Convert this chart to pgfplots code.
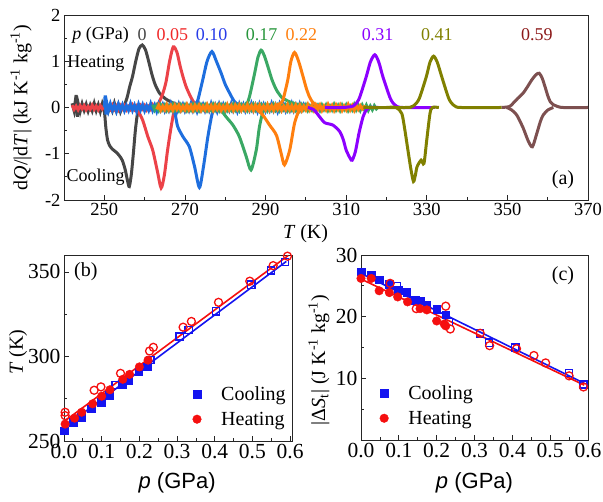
\documentclass[border=0pt]{standalone}
\usepackage{fontspec}
\setmainfont{Liberation Serif}
\newfontfamily\arial{Liberation Sans}
\usepackage{pgfplots}
\pgfplotsset{compat=1.18}

\definecolor{c0}{RGB}{70,70,70}
\definecolor{c1}{RGB}{236,66,72}
\definecolor{c2}{RGB}{30,110,222}
\definecolor{c3}{RGB}{58,168,100}
\definecolor{c4}{RGB}{255,127,14}
\definecolor{c5}{RGB}{140,0,255}
\definecolor{c6}{RGB}{128,128,0}
\definecolor{c7}{RGB}{125,80,80}
\definecolor{t1}{RGB}{240,40,40}
\definecolor{t2}{RGB}{40,60,232}
\definecolor{t3}{RGB}{40,150,60}
\definecolor{t7}{RGB}{140,25,25}
\definecolor{cblue}{RGB}{20,20,240}
\definecolor{cred}{RGB}{245,15,15}

\pgfplotsset{
  base/.style={
    scale only axis, anchor=south west,
    tick pos=left, tick align=inside,
    major tick length=5pt, minor tick length=3pt,
    axis line style={line width=0.8pt, black!85},
    every tick/.append style={line width=0.8pt, black!85},
    /pgf/number format/assume math mode=true,
  },
  bottom/.style={
    clip=false,
    xtick={0,0.1,0.2,0.3,0.4,0.5,0.6}, minor xtick={0.05,0.15,0.25,0.35,0.45,0.55},
    xticklabel style={/pgf/number format/fixed, /pgf/number format/fixed zerofill, /pgf/number format/precision=1},
    ticklabel style={font=\fontsize{21.5}{23}\selectfont},
    xlabel={{\arial\itshape p}{\arial\ (GPa)}},
    legend cell align=left,
    legend image code/.code={\draw[##1] plot coordinates {(0pt,0pt)}; \path (-5pt,0pt) (22pt,0pt);},
  },
  noise/.style={line width=3pt, no marks},
  peak/.style={line width=3pt, no marks, smooth, tension=0.45},
  fitline/.style={line width=1.6pt, no marks, forget plot},
  fsq/.style={only marks, mark=square*, mark size=3.8pt, cblue},
  osq/.style={only marks, mark=square, mark size=3.6pt, cblue, line width=1.3pt, mark options={fill=white}, forget plot},
  fci/.style={only marks, mark=*, mark size=4.3pt, cred},
  oci/.style={only marks, mark=o, mark size=4pt, cred, line width=1.3pt, mark options={fill=white}, forget plot},
}

\begin{document}
\begin{tikzpicture}

% ---------------- (a) ----------------
\begin{axis}[base, at={(64pt,302pt)}, width=524pt, height=185pt,
  xmin=240, xmax=370, ymin=-2, ymax=2,
  xtick={250,270,290,310,330,350,370}, minor xtick={240,260,280,300,320,340,360},
  ytick={-2,-1,0,1,2}, minor ytick={-1.5,-0.5,0.5,1.5},
  ticklabel style={font=\fontsize{18.5}{20}\selectfont},
  label style={font=\fontsize{20}{22}\selectfont},
  xlabel={\textit{T} (K)},
  xlabel style={at={(axis description cs:0.461,-0.184)}, anchor=center},
  ylabel={d\textit{Q}/|d\textit{T}| (kJ K\textsuperscript{-1} kg\textsuperscript{-1})},
  ylabel style={at={(axis description cs:-0.082,0.5)}, anchor=center, rotate=0},
]
% 0 GPa
\addplot[c0, noise] coordinates {(242.0,0.09)(242.5,-0.07)(243.0,0.27)(243.3,-0.2)(243.6,0.06)(244.0,-0.09)(244.5,0.08)(245.0,-0.06)(245.5,0.07)(246.0,-0.08)(246.5,0.05)(247.0,-0.07)
(247.5,0.09)(248.0,-0.07)(248.5,0.06)(249.0,-0.09)(249.5,0.08)(250.0,-0.06)(250.5,0.07)(251.0,-0.08)(251.5,0.05)(252.0,-0.07)
(252.5,0.09)(253.0,-0.07)(253.5,0.06)(254.0,-0.09)(254.5,0.03)};
\addplot[c0, peak] coordinates {(254.5,0)(255,0.05)(255.7,0.23)(256.3,0.45)(257,0.67)(257.8,1.0)(258.6,1.27)(259.4,1.35)(260.2,1.25)(261,1.0)(261.8,0.72)(262.6,0.5)(263.7,0.31)(265,0.2)(266.1,0.14)(267.5,0.08)(269,0.03)(270.5,0)};
\addplot[c0, peak] coordinates {(249.8,0)(250.1,-0.15)(250.4,-0.45)(250.8,-0.7)(251.3,-0.82)(252,-0.9)(253,-0.97)(253.8,-1.05)(254.5,-1.15)(255.2,-1.35)(255.8,-1.6)(256.2,-1.71)(256.7,-1.45)(257.2,-1.0)(257.7,-0.5)(258.2,-0.15)(258.8,-0.03)(260,0)(262,0)};
% 0.05 GPa
\addplot[c1, noise] coordinates {(242,0.05)(242.5,-0.04)(243,0.03)(243.5,-0.05)(244,0.04)(244.5,-0.03)(245,0.04)(245.5,-0.05)(246,0.02)(246.5,-0.04)
(247,0.05)(247.5,-0.04)(248,0.03)(248.5,-0.05)(249,0.04)(249.5,-0.03)(250,0.04)(250.5,-0.05)(251,0.02)(251.5,-0.04)
(252,0.05)(252.5,-0.04)(253,0.03)(253.5,-0.05)(254,0.04)(254.5,-0.03)(255,0.04)(255.5,-0.05)(256,0.02)(256.5,-0.04)
(257,0.05)(257.5,-0.04)(258,0.03)(258.5,-0.05)(259,0.04)(259.5,-0.03)(260,0.04)(260.5,-0.05)(261,0.02)(261.5,-0.04)
(262,0.05)(262.5,-0.04)(263,0.03)(263.5,-0.05)(264,0.04)(264.5,-0.03)(265,0.04)(265.5,-0.05)(266,0.02)(266.5,-0.04)
(267,0.05)(267.5,-0.04)(268,0.03)(268.5,-0.05)(269,0.04)(269.5,-0.03)(270,0.04)(270.5,-0.05)(271,0.02)(271.5,-0.04)
(272,0.05)(272.5,-0.04)(273,0.03)(273.5,-0.05)(274,0.04)(274.5,-0.03)(275,0.04)(275.5,-0.05)(276,0.02)(276.5,-0.04)
(277,0.05)(277.5,-0.04)(278,0.03)(278.5,-0.05)(279,0.04)(279.5,-0.03)(280,0.04)(280.5,-0.05)(281,0.02)(281.5,-0.04)
(282,0.05)(282.5,-0.04)(283,0.03)(283.5,-0.05)(284,0.04)(284.5,-0.03)(285,0.04)(285.5,-0.05)(286,0.02)(286.5,-0.04)
(287,0.05)(287.5,-0.04)(288,0.03)(288.5,-0.05)(289,0.04)(289.5,-0.03)(290,0.04)(290.5,-0.05)(291,0.02)(291.5,-0.04)
(292,0.05)(292.5,-0.04)(293,0.03)(293.5,-0.05)(294,0.04)(294.5,-0.03)(295,0.04)(295.5,-0.05)(296,0.02)(296.5,-0.04)
(297,0.05)(297.5,-0.04)(298,0.03)(298.5,-0.05)(299,0.04)(299.5,-0.03)(300,0.02)};
\addplot[c1, peak] coordinates {(261,0)(262.5,0.03)(263.5,0.1)(264.5,0.3)(265.3,0.55)(266.2,1.0)(267.1,1.31)(268,1.2)(268.8,0.9)(269.5,0.67)(270.3,0.45)(271.2,0.27)(272,0.14)(273,0.04)(274,0)};
\addplot[c1, peak] coordinates {(257.5,0)(258.2,-0.05)(259.5,-0.27)(260.8,-0.63)(262,-0.92)(263.2,-1.39)(264.1,-1.74)(264.9,-1.46)(265.7,-0.92)(266.6,-0.41)(267.4,-0.05)(268.2,0)};
% 0.10 GPa
\addplot[c2, noise] coordinates {(250,0)(250.2,0.26)(250.4,-0.15)(250.7,0.06)(251,-0.07)
(251.5,0.08)(252,-0.06)(252.5,0.05)(253,-0.08)(253.5,0.07)(254,-0.05)(254.5,0.06)(255,-0.07)(255.5,0.04)(256,-0.06)
(256.5,0.08)(257,-0.06)(257.5,0.05)(258,-0.08)(258.5,0.07)(259,-0.05)(259.5,0.06)(260,-0.07)(260.5,0.04)(261,-0.06)
(261.5,0.08)(262,-0.06)(262.5,0.05)(263,-0.08)(263.5,0.07)(264,-0.05)(264.5,0.06)(265,-0.07)(265.5,0.04)(266,-0.06)
(266.5,0.08)(267,-0.06)(267.5,0.05)(268,-0.08)(268.5,0.07)(269,-0.05)(269.5,0.06)(270,-0.07)(270.5,0.04)(271,-0.06)
(271.5,0.08)(272,-0.06)(272.5,0.05)(273,-0.08)(273.5,0.07)(274,-0.05)(274.5,0.06)(275,-0.07)(275.5,0.04)(276,-0.06)
(276.5,0.08)(277,-0.06)(277.5,0.05)(278,-0.08)(278.5,0.07)(279,-0.05)(279.5,0.06)(280,-0.07)(280.5,0.04)(281,-0.06)
(281.5,0.08)(282,-0.06)(282.5,0.05)(283,-0.08)(283.5,0.07)(284,-0.05)(284.5,0.06)(285,-0.07)(285.5,0.04)(286,-0.06)
(286.5,0.08)(287,-0.06)(287.5,0.05)(288,-0.08)(288.5,0.07)(289,-0.05)(289.5,0.06)(290,-0.07)(290.5,0.04)(291,-0.06)
(291.5,0.08)(292,-0.06)(292.5,0.05)(293,-0.08)(293.5,0.07)(294,-0.05)(294.5,0.06)(295,-0.07)(295.5,0.04)(296,-0.06)
(296.5,0.08)(297,-0.06)(297.5,0.05)(298,-0.08)(298.5,0.07)(299,-0.05)(299.5,0.06)(300,-0.02)};
\addplot[c2, peak] coordinates {(271.5,0)(272.5,0.05)(273.2,0.16)(274.4,0.59)(275.5,1.0)(276.7,1.21)(277.8,1.0)(279,0.74)(280,0.5)(281.1,0.31)(282.2,0.14)(283.5,0.04)(284.5,0)};
\addplot[c2, peak] coordinates {(267,0)(267.6,-0.15)(268.2,-0.41)(269.5,-0.63)(271.1,-0.85)(272.4,-1.28)(273.6,-1.73)(274.6,-1.28)(275.7,-0.63)(276.8,-0.12)(277.8,0)};
% 0.17 GPa
\addplot[c3, noise] coordinates {(262,0.06)(262.5,-0.05)(263,0.04)(263.5,-0.06)(264,0.05)(264.5,-0.04)(265,0.05)(265.5,-0.06)(266,0.03)(266.5,-0.05)
(267,0.06)(267.5,-0.05)(268,0.04)(268.5,-0.06)(269,0.05)(269.5,-0.04)(270,0.05)(270.5,-0.06)(271,0.03)(271.5,-0.05)
(272,0.06)(272.5,-0.05)(273,0.04)(273.5,-0.06)(274,0.05)(274.5,-0.04)(275,0.05)(275.5,-0.06)(276,0.03)(276.5,-0.05)
(277,0.06)(277.5,-0.05)(278,0.04)(278.5,-0.06)(279,0.05)(279.5,-0.04)(280,0.05)(280.5,-0.06)(281,0.03)(281.5,-0.05)
(282,0.06)(282.5,-0.05)(283,0.04)(283.5,-0.06)(284,0.05)(284.5,-0.04)(285,0.05)(285.5,-0.06)(286,0.03)(286.5,-0.05)
(287,0.06)(287.5,-0.05)(288,0.04)(288.5,-0.06)(289,0.05)(289.5,-0.04)(290,0.05)(290.5,-0.06)(291,0.03)(291.5,-0.05)
(292,0.06)(292.5,-0.05)(293,0.04)(293.5,-0.06)(294,0.05)(294.5,-0.04)(295,0.05)(295.5,-0.06)(296,0.03)(296.5,-0.05)
(297,0.06)(297.5,-0.05)(298,0.04)(298.5,-0.06)(299,0.05)(299.5,-0.04)(300,0.05)(300.5,-0.06)(301,0.03)(301.5,-0.05)
(302,0.06)(302.5,-0.05)(303,0.04)(303.5,-0.06)(304,0.05)(304.5,-0.04)(305,0.05)(305.5,-0.06)(306,0.03)(306.5,-0.05)
(307,0.06)(307.5,-0.05)(308,0.04)(308.5,-0.06)(309,0.05)(309.5,-0.04)(310,0.05)(310.5,-0.06)(311,0.03)(311.5,-0.05)
(312,0.06)(312.5,-0.05)(313,0.04)(313.5,-0.06)(314,0.05)(314.5,-0.04)(315,0.05)(315.5,-0.06)(316,0.03)(316.5,-0.05)
(317,0.04)(317.5,-0.03)(318,0.01)};
\addplot[c3, peak] coordinates {(284.2,0)(285.2,0.05)(286,0.23)(287.3,0.74)(288.1,1.08)(288.9,1.24)(289.7,1.12)(290.6,0.88)(291.6,0.6)(292.7,0.38)(294,0.22)(295.1,0.16)(296.8,0.09)(298.4,0.05)(301,0.02)};
\addplot[c3, peak] coordinates {(278.5,0)(280.2,-0.2)(281.9,-0.38)(283.5,-0.63)(285.2,-1.06)(286.4,-1.35)(287.7,-0.92)(288.5,-0.41)(289.5,-0.05)(290.5,0)};
% 0.22 GPa
\addplot[c4, noise] coordinates {(263,-0.04)(263.5,0.05)(264,-0.06)(264.5,0.03)(265,-0.05)(265.5,0.06)(266,-0.05)(266.5,0.04)(267,-0.06)(267.5,0.05)
(268,-0.04)(268.5,0.05)(269,-0.06)(269.5,0.03)(270,-0.05)(270.5,0.06)(271,-0.05)(271.5,0.04)(272,-0.06)(272.5,0.05)
(273,-0.04)(273.5,0.05)(274,-0.06)(274.5,0.03)(275,-0.05)(275.5,0.06)(276,-0.05)(276.5,0.04)(277,-0.06)(277.5,0.05)
(278,-0.04)(278.5,0.05)(279,-0.06)(279.5,0.03)(280,-0.05)(280.5,0.06)(281,-0.05)(281.5,0.04)(282,-0.06)(282.5,0.05)
(283,-0.04)(283.5,0.05)(284,-0.06)(284.5,0.03)(285,-0.05)(285.5,0.06)(286,-0.05)(286.5,0.04)(287,-0.06)(287.5,0.05)
(288,-0.04)(288.5,0.05)(289,-0.06)(289.5,0.03)(290,-0.05)(290.5,0.06)(291,-0.05)(291.5,0.04)(292,-0.06)(292.5,0.05)
(293,-0.04)(293.5,0.05)(294,-0.06)(294.5,0.03)(295,-0.05)(295.5,0.06)(296,-0.05)(296.5,0.04)(297,-0.06)(297.5,0.05)
(298,-0.04)(298.5,0.05)(299,-0.06)(299.5,0.03)(300,-0.05)(300.5,0.06)(301,-0.05)(301.5,0.04)(302,-0.06)(302.5,0.05)
(303,-0.04)(303.5,0.05)(304,-0.06)(304.5,0.03)(305,-0.05)(305.5,0.06)(306,-0.05)(306.5,0.04)(307,-0.06)(307.5,0.05)
(308,-0.04)(308.5,0.05)(309,-0.06)(309.5,0.03)(310,-0.05)(310.5,0.06)(311,-0.05)(311.5,0.04)(312,-0.06)(312.5,0.05)
(313,-0.04)(313.5,0.04)(314,-0.03)(314.5,0.02)(315,0)};
\addplot[c4, peak] coordinates {(292.5,0.04)(293.5,0.08)(294.3,0.16)(295.5,0.59)(296.3,1.0)(297.2,1.19)(298.2,1.0)(299.3,0.67)(300.1,0.42)(300.9,0.23)(301.8,0.1)(302.6,0.05)(304,0)};
\addplot[c4, peak] coordinates {(287.5,0)(289.3,-0.16)(291,-0.38)(292.7,-0.6)(293.9,-1.0)(294.7,-1.24)(296,-0.92)(297.2,-0.34)(298.4,-0.05)(299.5,0)};
% 0.31 GPa
\addplot[c5, peak] coordinates {(304.7,0)(309,0)(310.5,0.01)(311.7,0.03)(312.6,0.1)(313.4,0.23)(315,0.67)(316,0.98)(317.1,1.14)(318.1,0.98)(319.1,0.67)(320.8,0.23)(321.6,0.1)(322.5,0.03)(324,0)(332,0)};
\addplot[c5, peak] coordinates {(300.5,0)(302,-0.05)(303.4,-0.2)(304.7,-0.33)(306.7,-0.38)(308.4,-0.52)(309.3,-0.7)(310,-0.92)(311,-1.1)(311.5,-1.14)(312.3,-0.95)(313.2,-0.55)(314.2,-0.2)(315,-0.05)(315.7,0)(318,0)};
% 0.41 GPa
\addplot[c6, peak] coordinates {(314.3,0)(325,0)(326,0.01)(326.6,0.03)(327.5,0.1)(328.3,0.23)(329.9,0.67)(330.8,0.98)(331.7,1.11)(332.6,0.98)(333.7,0.67)(335.3,0.23)(336.1,0.1)(337,0.03)(338.5,0)(348.6,0)};
\addplot[c6, peak] coordinates {(320,0)(322.4,0)(323.8,-0.13)(324.5,-0.45)(325.2,-0.85)(326,-1.3)(326.7,-1.6)(327.2,-1.45)(327.6,-1.28)(328.6,-1.14)(329.3,-1.21)(330,-0.7)(330.8,-0.13)(331.4,0)(333,0)};
% 0.59 GPa
\addplot[c7, peak] coordinates {(348.6,0)(350.5,0.02)(351.4,0.09)(352.6,0.2)(353.9,0.31)(355,0.45)(356,0.59)(357.1,0.71)(357.9,0.74)(358.6,0.64)(359.3,0.46)(360,0.26)(360.6,0.13)(361.4,0.06)(362.2,0.03)(363.8,0)(370,0)};
\addplot[c7, peak] coordinates {(349.8,0)(351,-0.05)(352.3,-0.16)(353.9,-0.44)(355.2,-0.73)(356.2,-0.85)(357.2,-0.59)(358.2,-0.3)(358.9,-0.16)(360.1,-0.05)(361.4,0)};

\begin{scope}[font=\fontsize{18}{20}\selectfont]
\node[anchor=west, inner sep=0pt] at (axis cs:242,1.57) {\textit{p} (GPa)};
\node[c0, inner sep=0pt] at (axis cs:259.4,1.57) {0};
\node[t1, inner sep=0pt] at (axis cs:266.9,1.57) {0.05};
\node[t2, inner sep=0pt] at (axis cs:276.6,1.57) {0.10};
\node[t3, inner sep=0pt] at (axis cs:289.0,1.57) {0.17};
\node[c4, inner sep=0pt] at (axis cs:298.9,1.57) {0.22};
\node[c5, inner sep=0pt] at (axis cs:317.8,1.57) {0.31};
\node[c6, inner sep=0pt] at (axis cs:332.5,1.57) {0.41};
\node[t7, inner sep=0pt] at (axis cs:357.3,1.57) {0.59};
\node[anchor=west, inner sep=0pt] at (axis cs:240.8,0.96) {Heating};
\node[anchor=west, inner sep=0pt] at (axis cs:240.6,-1.5) {Cooling};
\end{scope}
\node[font=\fontsize{20}{22}\selectfont, inner sep=0pt] at (axis cs:363.8,-1.57) {(a)};
\end{axis}

% ---------------- (b) ----------------
\begin{axis}[base, bottom, at={(64pt,61pt)}, width=228pt, height=186pt,
  xmin=0, xmax=0.605, ymin=250, ymax=360,
  ytick={250,300,350}, minor ytick={275,325},
  xlabel style={font=\fontsize{22}{24}\selectfont, at={(axis description cs:0.496,-0.226)}, anchor=center},
  ylabel={\textit{T} (K)},
  ylabel style={font=\fontsize{20}{22}\selectfont, at={(axis description cs:-0.202,0.478)}, anchor=center},
  legend style={draw=none, fill=none, font=\fontsize{20}{24}\selectfont, at={(0.995,0.055)}, anchor=south east, row sep=6pt},
]
\addplot[fitline, cblue] coordinates {(0,258)(0.59,356.2)};
\addplot[fitline, cred] coordinates {(0,261.5)(0.595,359.7)};
\addplot[fsq] coordinates {(0.0,256)(0.025,261)(0.045,264)(0.072,269)(0.098,273)(0.12,277)(0.155,283.5)(0.172,286)(0.198,291)(0.22,294)};
\addlegendentry{Cooling}
\addplot[osq] coordinates {(0.137,283)(0.229,297.8)(0.307,311.8)(0.331,315.7)(0.403,326.7)(0.497,342.5)(0.549,350.8)(0.586,356)};
\addplot[fci] coordinates {(0.003,260)(0.028,263.5)(0.047,267)(0.076,272)(0.1,276.5)(0.122,280.3)(0.156,286.5)(0.174,289.4)(0.2,293.8)(0.223,297.8)};
\addlegendentry{Heating}
\addplot[oci] coordinates {(0.003,265)(0.003,267)(0.08,280)(0.098,282)(0.15,290)(0.227,303.2)(0.237,305.4)(0.316,317.3)(0.338,320.7)(0.41,332)(0.493,344.5)(0.555,353.7)(0.593,359.3)};
\node[font=\fontsize{20}{22}\selectfont, inner sep=0pt] at (axis cs:0.058,350) {(b)};
\end{axis}

% ---------------- (c) ----------------
\begin{axis}[base, bottom, at={(361pt,62pt)}, width=227pt, height=185pt,
  xmin=0, xmax=0.6, ymin=0, ymax=30,
  ytick={10,20,30}, minor ytick={5,15,25},
  xlabel style={font=\fontsize{22}{24}\selectfont, at={(axis description cs:0.5,-0.232)}, anchor=center},
  ylabel={|Δ\textit{S}\textsubscript{t}| (J K\textsuperscript{-1} kg\textsuperscript{-1})},
  ylabel style={font=\fontsize{20}{22}\selectfont, at={(axis description cs:-0.185,0.432)}, anchor=center},
  legend style={draw=none, fill=none, font=\fontsize{20}{24}\selectfont, at={(0.065,0.055)}, anchor=south west, row sep=6pt},
]
\addplot[fitline, cblue] coordinates {(0,27.0)(0.59,9.2)};
\addplot[fitline, cred] coordinates {(0,26.1)(0.59,8.9)};
\addplot[fsq] coordinates {(0,27.3)(0.027,26.8)(0.048,26.0)(0.075,25.3)(0.099,24.3)(0.121,24.0)(0.143,22.7)(0.158,22.6)(0.174,21.9)(0.2,21.2)(0.224,20.3)};
\addlegendentry{Cooling}
\addplot[osq] coordinates {(0.095,25.0)(0.232,19.1)(0.315,17.3)(0.338,15.8)(0.408,15.0)(0.55,10.9)(0.588,9.0)};
\addplot[fci] coordinates {(0,26.2)(0.027,26.2)(0.048,24.2)(0.075,23.9)(0.097,23.2)(0.123,22.4)(0.156,21.3)(0.174,21.1)(0.2,19.3)(0.22,18.8)(0.224,18.5)};
\addlegendentry{Heating}
\addplot[oci] coordinates {(0.077,25.4)(0.146,21.3)(0.224,21.7)(0.236,18.0)(0.315,17.3)(0.34,15.3)(0.411,14.8)(0.457,13.7)(0.488,12.5)(0.55,10.4)(0.588,8.6)};
\node[font=\fontsize{20}{22}\selectfont, inner sep=0pt] at (axis cs:0.534,26.6) {(c)};
\end{axis}

\pgfresetboundingbox
\path[use as bounding box] (0pt,0pt) rectangle (603pt,502pt);
\end{tikzpicture}
\end{document}
